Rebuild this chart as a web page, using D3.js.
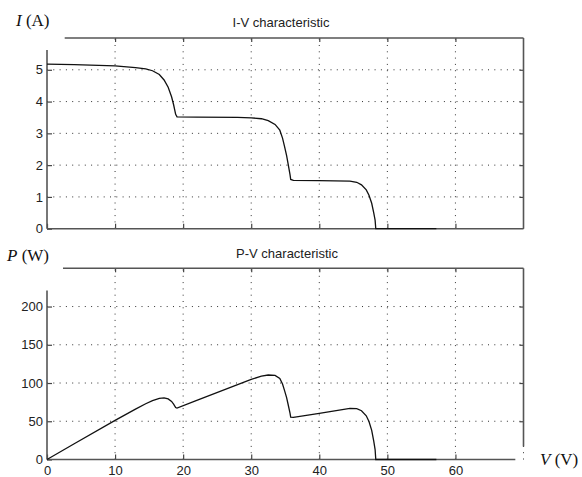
<!DOCTYPE html>
<html>
<head>
<meta charset="utf-8">
<script src="https://cdn.jsdelivr.net/npm/d3@7/dist/d3.min.js"></script>
<style>
  html, body { margin: 0; padding: 0; background: #fff; }
  svg { display: block; }
  .tick text { font-family: "Liberation Sans", Arial, sans-serif; font-size: 13px; fill: #222; }
  .tick line { stroke: #444; stroke-width: 1.2; }
  .grid line { stroke: #333; stroke-width: 1; stroke-dasharray: 1 5.3; }
  .frame { stroke: #555; stroke-width: 1.6; fill: none; }
  .curve { stroke: #111; stroke-width: 1.3; fill: none; }
  .title { font-family: "Liberation Sans", Arial, sans-serif; font-size: 13px; fill: #222; text-anchor: middle; }
  .qty { font-family: "Liberation Serif", "Times New Roman", serif; font-size: 17px; fill: #111; }
</style>
</head>
<body>
<script>
// Terminal voltage samples (V) and the measured module current (A)
const ivVoltage = [0, 4, 10, 13, 14.5, 15.5, 16.5, 17.2, 17.8, 18.3, 18.6, 18.9, 19.1, 22, 28, 30, 31.5, 32.5, 33.5, 34.2, 34.6, 34.9, 35.2, 35.4, 35.7, 35.8, 36.2, 40, 44.5, 45.5, 46.2, 46.9, 47.3, 47.7, 48.0, 48.2, 48.3, 57.2];
const ivCurrent = [5.18, 5.16, 5.12, 5.07, 5.03, 4.97, 4.85, 4.68, 4.45, 4.15, 3.90, 3.60, 3.52, 3.51, 3.50, 3.49, 3.46, 3.40, 3.28, 3.10, 2.85, 2.58, 2.30, 2.06, 1.70, 1.55, 1.52, 1.51, 1.50, 1.46, 1.38, 1.22, 1.05, 0.80, 0.50, 0.27, 0, 0];

// Power delivered (W) at the same voltage samples
const pvVoltage = [0, 4, 10, 13, 14.5, 15.5, 16.5, 17.2, 17.8, 18.3, 18.6, 18.9, 19.1, 22, 28, 30, 31.5, 32.5, 33.5, 34.2, 34.6, 34.9, 35.2, 35.4, 35.7, 35.8, 36.2, 40, 44.5, 45.5, 46.2, 46.9, 47.3, 47.7, 48.0, 48.2, 48.3, 57.2];
const pvPower = [0, 20.6, 51.2, 65.9, 72.9, 77.0, 80.0, 80.5, 79.2, 75.9, 72.5, 68.0, 67.2, 77.2, 98.0, 104.7, 109.0, 110.5, 109.9, 106.0, 98.6, 90.0, 81.0, 72.9, 60.7, 55.5, 55.0, 60.4, 66.8, 66.4, 63.8, 57.2, 49.7, 38.2, 24.0, 13.0, 0, 0];

// Axis ticks
const vTicks = [0, 10, 20, 30, 40, 50, 60];
const vGrid = [10, 20, 30, 40, 50, 60];
const iTicks = [0, 1, 2, 3, 4, 5];
const pTicks = [0, 50, 100, 150, 200];

const W = 582, H = 477;
const svg = d3.select("body").append("svg").attr("width", W).attr("height", H);
svg.append("rect").attr("width", W).attr("height", H).attr("fill", "#fff");

const x = d3.scaleLinear().domain([0, 70]).range([47, 523.5]);
const yI = d3.scaleLinear().domain([0, 6]).range([228.7, 38]);
const yP = d3.scaleLinear().domain([0, 250]).range([459.5, 268.3]);
const intFmt = d3.format("d");

function panel(y, yTicks, yGrid, opts) {
  const g = svg.append("g");
  const [y0, yTop] = y.domain();

  // dotted grid
  const grid = g.append("g").attr("class", "grid");
  grid.selectAll("line.v").data(vGrid.concat([70])).join("line")
    .attr("x1", d => x(d)).attr("x2", d => x(d))
    .attr("y1", y(y0)).attr("y2", y(yTop))
    .attr("stroke-width", d => d === 70 ? 2.6 : 1);
  grid.selectAll("line.h").data(yGrid).join("line")
    .attr("x1", x(0)).attr("x2", x(70))
    .attr("y1", d => y(d)).attr("y2", d => y(d));

  // left axis with inward ticks
  const left = g.append("g").attr("transform", `translate(${x(0)},0)`)
    .call(d3.axisLeft(y).tickValues(yTicks).tickSize(-5).tickSizeOuter(0).tickPadding(4).tickFormat(intFmt));
  left.select(".domain").remove();

  // right axis ticks
  const right = g.append("g").attr("transform", `translate(${x(70)},0)`)
    .call(d3.axisRight(y).tickValues(yTicks.slice(1)).tickSize(-4).tickSizeOuter(0).tickFormat(""));
  right.select(".domain").remove();

  // bottom axis
  const bottom = g.append("g").attr("transform", `translate(0,${y(y0)})`)
    .call(d3.axisBottom(x).tickValues(vTicks).tickSize(-5).tickSizeOuter(0).tickPadding(4)
      .tickFormat(opts.xLabels ? intFmt : ""));
  bottom.select(".domain").remove();
  bottom.selectAll(".tick text").attr("dy", "0.85em");

  // top edge ticks
  const top = g.append("g").attr("transform", `translate(0,${y(yTop)})`)
    .call(d3.axisTop(x).tickValues(vGrid).tickSize(-4).tickSizeOuter(0).tickFormat(""));
  top.select(".domain").remove();

  // frame lines
  g.append("line").attr("class", "frame")
    .attr("x1", x(0)).attr("x2", x(0)).attr("y1", y(y0)).attr("y2", y(opts.leftTop));
  g.append("line").attr("class", "frame")
    .attr("x1", x(0)).attr("x2", x(opts.bottomEnd)).attr("y1", y(y0)).attr("y2", y(y0));
  g.append("line").attr("class", "frame")
    .attr("x1", x(opts.topStart)).attr("x2", x(70)).attr("y1", y(yTop)).attr("y2", y(yTop));
  g.append("line").attr("class", "frame")
    .attr("x1", x(70)).attr("x2", x(70)).attr("y1", y(yTop)).attr("y2", y(opts.rightBottom));
  return g;
}

const gI = panel(yI, iTicks, [1, 2, 3, 4, 5], { xLabels: false, leftTop: 5.62, bottomEnd: 70, topStart: 2.6, rightBottom: 0 });
const gP = panel(yP, pTicks, [50, 100, 150, 200], { xLabels: true, leftTop: 221, bottomEnd: 68.8, topStart: 2.35, rightBottom: 17 });

// curves
const ivData = ivVoltage.map((v, k) => [v, ivCurrent[k]]);
const pvData = pvVoltage.map((v, k) => [v, pvPower[k]]);

gI.append("path").attr("class", "curve")
  .attr("d", d3.line().x(d => x(d[0])).y(d => yI(d[1]))(ivData));
gP.append("path").attr("class", "curve")
  .attr("d", d3.line().x(d => x(d[0])).y(d => yP(d[1]))(pvData));

// titles
svg.append("text").attr("class", "title").attr("x", 281).attr("y", 27).text("I-V characteristic");
svg.append("text").attr("class", "title").attr("x", 287).attr("y", 258).text("P-V characteristic");

// quantity labels
function qty(xp, yp, sym, unit) {
  const t = svg.append("text").attr("class", "qty").attr("x", xp).attr("y", yp);
  t.append("tspan").attr("font-style", "italic").text(sym);
  t.append("tspan").text(" (" + unit + ")");
}
qty(16, 26, "I", "A");
qty(7, 261, "P", "W");
qty(540, 465, "V", "V");
</script>
</body>
</html>
